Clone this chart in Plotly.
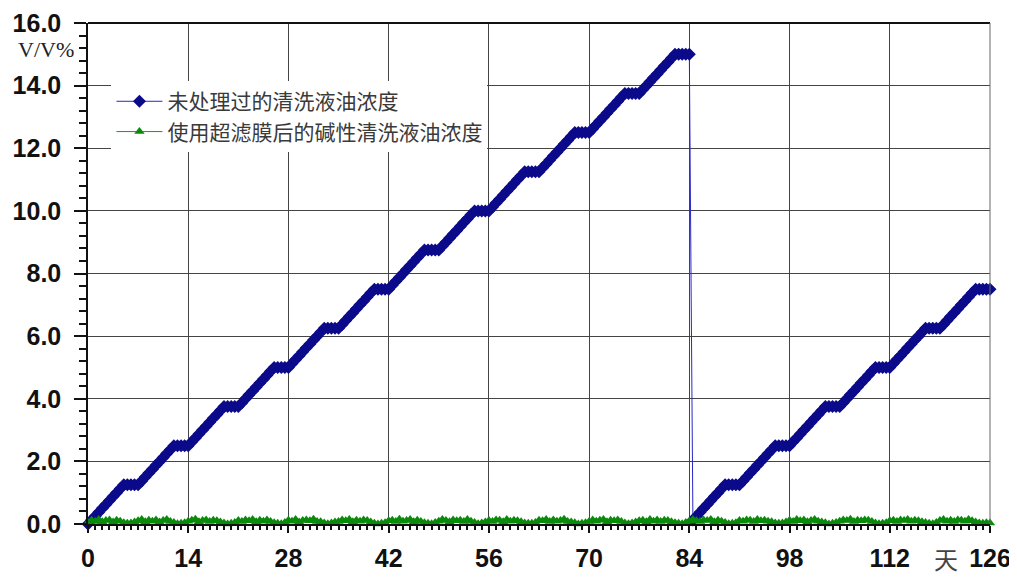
import plotly.graph_objects as go

# Day axis: one reading every half day, 0 .. 126
days = [i * 0.5 for i in range(253)]

# Untreated cleaning liquid oil concentration (V/V%)
untreated = [
    0.0, 0.125, 0.25, 0.375, 0.5, 0.625, 0.75, 0.875, 1.0, 1.125, 1.25, 1.25, 1.25, 1.25,
    1.25, 1.375, 1.5, 1.625, 1.75, 1.875, 2.0, 2.125, 2.25, 2.375, 2.5, 2.5, 2.5, 2.5,
    2.5, 2.625, 2.75, 2.875, 3.0, 3.125, 3.25, 3.375, 3.5, 3.625, 3.75, 3.75, 3.75, 3.75,
    3.75, 3.875, 4.0, 4.125, 4.25, 4.375, 4.5, 4.625, 4.75, 4.875, 5.0, 5.0, 5.0, 5.0,
    5.0, 5.125, 5.25, 5.375, 5.5, 5.625, 5.75, 5.875, 6.0, 6.125, 6.25, 6.25, 6.25, 6.25,
    6.25, 6.375, 6.5, 6.625, 6.75, 6.875, 7.0, 7.125, 7.25, 7.375, 7.5, 7.5, 7.5, 7.5,
    7.5, 7.625, 7.75, 7.875, 8.0, 8.125, 8.25, 8.375, 8.5, 8.625, 8.75, 8.75, 8.75, 8.75,
    8.75, 8.875, 9.0, 9.125, 9.25, 9.375, 9.5, 9.625, 9.75, 9.875, 10.0, 10.0, 10.0, 10.0,
    10.0, 10.125, 10.25, 10.375, 10.5, 10.625, 10.75, 10.875, 11.0, 11.125, 11.25, 11.25, 11.25, 11.25,
    11.25, 11.375, 11.5, 11.625, 11.75, 11.875, 12.0, 12.125, 12.25, 12.375, 12.5, 12.5, 12.5, 12.5,
    12.5, 12.625, 12.75, 12.875, 13.0, 13.125, 13.25, 13.375, 13.5, 13.625, 13.75, 13.75, 13.75, 13.75,
    13.75, 13.875, 14.0, 14.125, 14.25, 14.375, 14.5, 14.625, 14.75, 14.875, 15.0, 15.0, 15.0, 15.0,
    15.0,
    0.125, 0.25, 0.375, 0.5, 0.625, 0.75, 0.875, 1.0, 1.125, 1.25, 1.25, 1.25, 1.25,
    1.25, 1.375, 1.5, 1.625, 1.75, 1.875, 2.0, 2.125, 2.25, 2.375, 2.5, 2.5, 2.5, 2.5,
    2.5, 2.625, 2.75, 2.875, 3.0, 3.125, 3.25, 3.375, 3.5, 3.625, 3.75, 3.75, 3.75, 3.75,
    3.75, 3.875, 4.0, 4.125, 4.25, 4.375, 4.5, 4.625, 4.75, 4.875, 5.0, 5.0, 5.0, 5.0,
    5.0, 5.125, 5.25, 5.375, 5.5, 5.625, 5.75, 5.875, 6.0, 6.125, 6.25, 6.25, 6.25, 6.25,
    6.25, 6.375, 6.5, 6.625, 6.75, 6.875, 7.0, 7.125, 7.25, 7.375, 7.5, 7.5, 7.5, 7.5,
    7.5,
]

# Alkaline cleaning liquid oil concentration after ultrafiltration (V/V%)
filtered = [
    0.05, 0.12, 0.08, 0.14, 0.07, 0.11, 0.13, 0.06, 0.12, 0.09, 0.04, 0.02, 0.03, 0.06,
    0.10, 0.14, 0.07, 0.12, 0.09, 0.13, 0.06, 0.11, 0.14, 0.08, 0.05, 0.01, 0.02, 0.04,
    0.09, 0.12, 0.15, 0.07, 0.11, 0.13, 0.08, 0.12, 0.10, 0.06, 0.03, 0.00, 0.02, 0.05,
    0.11, 0.08, 0.13, 0.10, 0.14, 0.07, 0.12, 0.09, 0.13, 0.08, 0.04, 0.02, 0.01, 0.05,
    0.12, 0.09, 0.14, 0.06, 0.11, 0.13, 0.10, 0.15, 0.08, 0.07, 0.03, 0.01, 0.03, 0.06,
    0.08, 0.13, 0.10, 0.14, 0.07, 0.12, 0.09, 0.13, 0.11, 0.06, 0.02, 0.00, 0.02, 0.04,
    0.10, 0.12, 0.08, 0.15, 0.09, 0.11, 0.14, 0.07, 0.12, 0.08, 0.04, 0.02, 0.01, 0.05,
    0.09, 0.14, 0.11, 0.07, 0.13, 0.10, 0.12, 0.08, 0.14, 0.09, 0.05, 0.01, 0.03, 0.06,
    0.11, 0.08, 0.13, 0.12, 0.07, 0.14, 0.09, 0.12, 0.10, 0.07, 0.03, 0.02, 0.02, 0.05,
    0.12, 0.10, 0.14, 0.08, 0.13, 0.09, 0.11, 0.15, 0.08, 0.06, 0.04, 0.00, 0.02, 0.04,
    0.08, 0.13, 0.09, 0.12, 0.14, 0.07, 0.12, 0.10, 0.13, 0.08, 0.03, 0.01, 0.03, 0.06,
    0.10, 0.12, 0.07, 0.14, 0.09, 0.13, 0.08, 0.12, 0.11, 0.07, 0.04, 0.02, 0.01, 0.05,
    0.09, 0.14, 0.10, 0.08, 0.13, 0.11, 0.14, 0.07, 0.12, 0.09, 0.05, 0.01, 0.02, 0.04,
    0.11, 0.09, 0.13, 0.12, 0.08, 0.14, 0.10, 0.12, 0.09, 0.07, 0.03, 0.02, 0.03, 0.06,
    0.12, 0.08, 0.14, 0.10, 0.13, 0.07, 0.11, 0.14, 0.09, 0.06, 0.04, 0.00, 0.02, 0.05,
    0.09, 0.13, 0.11, 0.15, 0.08, 0.12, 0.10, 0.13, 0.12, 0.08, 0.03, 0.01, 0.02, 0.04,
    0.10, 0.12, 0.08, 0.13, 0.11, 0.14, 0.09, 0.12, 0.10, 0.07, 0.05, 0.02, 0.01, 0.05,
    0.11, 0.14, 0.09, 0.12, 0.08, 0.13, 0.12, 0.09, 0.14, 0.10, 0.06, 0.03, 0.02, 0.04,
    0.03,
]

series_names = ["未处理过的清洗液油浓度", "使用超滤膜后的碱性清洗液油浓度"]
x_ticks = [0, 14, 28, 42, 56, 70, 84, 98, 112, 126]
y_ticks = [0, 2, 4, 6, 8, 10, 12, 14, 16]

NUM_FONT = "Liberation Sans, Arial, sans-serif"
CJK_FONT = "Noto Sans CJK SC, sans-serif"

fig = go.Figure()
fig.add_trace(go.Scatter(
    x=days, y=untreated, name=series_names[0], mode="lines+markers",
    line=dict(color="#2828c8", width=1),
    marker=dict(symbol="diamond", size=10, color="#0a0a8a", line=dict(width=0)),
    cliponaxis=False,
))
fig.add_trace(go.Scatter(
    x=days, y=filtered, name=series_names[1], mode="lines+markers",
    line=dict(color="#1a9a1a", width=1),
    marker=dict(symbol="triangle-up", size=9, color="#0a8a0a", line=dict(width=0)),
    cliponaxis=False,
))

# page body has an 8px margin, so the figure is sized to fit the window
fig.update_layout(
    width=1009, height=570,
    margin=dict(l=80, r=27, t=15, b=54),
    paper_bgcolor="white", plot_bgcolor="white",
    showlegend=True,
    legend=dict(
        x=0.026, y=0.884, xanchor="left", yanchor="top",
        bgcolor="white", borderwidth=0,
        font=dict(family=CJK_FONT, size=21, color="#3a3a3a"),
        itemwidth=46, tracegroupgap=0,
    ),
    font=dict(family=NUM_FONT, color="#111"),
)

fig.update_xaxes(
    range=[0, 126], tickvals=x_ticks, ticktext=[str(v) for v in x_ticks],
    showgrid=True, gridcolor="#444", gridwidth=1,
    showline=True, linecolor="#111", linewidth=1.5, mirror=False,
    ticks="outside", ticklen=7, tickcolor="#111", tickwidth=1.5,
    minor=dict(dtick=1, ticks="outside", ticklen=4, tickcolor="#111", showgrid=False),
    tickfont=dict(family=NUM_FONT, size=25, color="#111", weight="bold"),
    ticklabelstandoff=4, ticklabeloverflow="allow",
    zeroline=False, fixedrange=True, automargin=False,
)
fig.update_yaxes(
    range=[0, 16], tickvals=y_ticks, ticktext=[f"{v:.1f}" for v in y_ticks],
    showgrid=True, gridcolor="#444", gridwidth=1,
    showline=True, linecolor="#111", linewidth=1.5, mirror=False,
    ticks="outside", ticklen=12, tickcolor="#111", tickwidth=1.5,
    minor=dict(dtick=0.4, ticks="outside", ticklen=7, tickcolor="#111", showgrid=False),
    tickfont=dict(family=NUM_FONT, size=25, color="#111", weight="bold"),
    ticklabelstandoff=8, ticklabeloverflow="allow",
    zeroline=False, fixedrange=True, automargin=False,
)

# top border and right border
fig.add_shape(type="line", xref="paper", yref="paper", x0=0, x1=1, y0=1, y1=1,
              line=dict(color="#111", width=2))
fig.add_shape(type="line", xref="paper", yref="paper", x0=1, x1=1, y0=0, y1=1,
              line=dict(color="#666", width=1))

fig.add_annotation(text="V/V%", xref="paper", yref="paper", x=-0.08, y=0.948,
                   xanchor="left", yanchor="middle", showarrow=False,
                   font=dict(family="Liberation Serif, Times New Roman, serif", size=22, color="#222"))
fig.add_annotation(text="天", xref="paper", yref="paper", x=0.951, y=-0.069,
                   xanchor="center", yanchor="middle", showarrow=False,
                   font=dict(family=CJK_FONT, size=24, color="#444"))

fig.write_html("out.html")
